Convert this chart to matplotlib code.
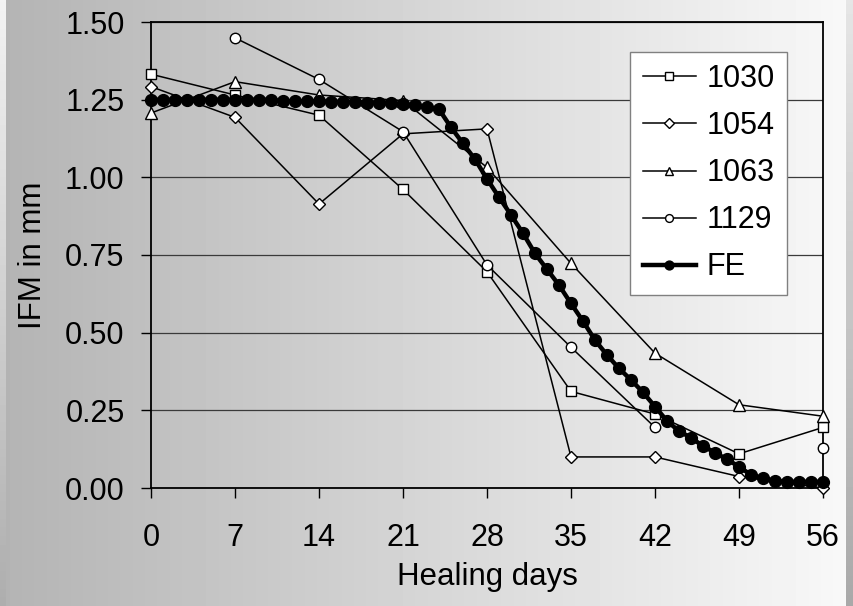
import numpy as np
import matplotlib
matplotlib.use("Agg")
import matplotlib.pyplot as plt

plt.rcParams['font.family'] = ['Liberation Sans', 'DejaVu Sans']

# weekly measurements (days)
days = [0, 7, 14, 21, 28, 35, 42, 49, 56]
s1030 = [1.332, 1.265, 1.200, 0.961, 0.696, 0.311, 0.238, 0.110, 0.195]
s1054 = [1.292, 1.193, 0.914, 1.140, 1.156, 0.100, 0.100, 0.037, 0.000]
s1063 = [1.207, 1.308, 1.265, 1.247, 1.032, 0.723, 0.434, 0.268, 0.231]
s1129 = [np.nan, 1.449, 1.315, 1.147, 0.718, 0.453, 0.195, np.nan, 0.130]

# FE model, one value per day 0..56
fe_days = list(range(57))
fe = [1.25, 1.25, 1.25, 1.25, 1.25, 1.25, 1.25, 1.25, 1.25, 1.25, 1.25,
      1.245, 1.245, 1.245, 1.245, 1.243, 1.243, 1.242, 1.24, 1.24, 1.238,
      1.235, 1.232, 1.227, 1.219, 1.161, 1.109, 1.058, 0.995, 0.936, 0.879,
      0.82, 0.755, 0.704, 0.653, 0.594, 0.537, 0.476, 0.428, 0.385, 0.348,
      0.308, 0.262, 0.216, 0.183, 0.162, 0.135, 0.114, 0.092, 0.069, 0.042,
      0.031, 0.023, 0.02, 0.02, 0.02, 0.02]

xticks = [0, 7, 14, 21, 28, 35, 42, 49, 56]
yticks = [0.0, 0.25, 0.5, 0.75, 1.0, 1.25, 1.5]

fig = plt.figure(figsize=(8.54, 6.06), dpi=100)

# gradient background
W, H = 854, 606
xs = np.arange(W)
row = np.clip(0.706 + (0.973 - 0.706) * (xs - 6) / 840.0, 0, 1)
img = np.tile(row, (H, 1))
img[:, :6] = np.linspace(0.95, 0.68, H)[:, None]
img[:, 846:] = np.linspace(0.90, 0.66, H)[:, None]
bg = fig.add_axes([0, 0, 1, 1], zorder=-10)
bg.imshow(img, cmap='gray', vmin=0, vmax=1, aspect='auto', interpolation='bilinear')
bg.axis('off')

ax = fig.add_axes([151 / W, 1 - 488 / H, (823 - 151) / W, (488 - 22) / H])
ax.set_facecolor('none')

mk = dict(color='black', lw=1.1, markersize=7.5, markerfacecolor='white',
          markeredgecolor='black', markeredgewidth=1.0, clip_on=False)
ax.plot(days, s1030, marker='s', label='1030', zorder=3, **mk)
ax.plot(days, s1054, marker='D', label='1054', zorder=3, **dict(mk, markersize=6.5))
ax.plot(days, s1063, marker='^', label='1063', zorder=3, **dict(mk, markersize=8.5))
ax.plot(days, s1129, marker='o', label='1129', zorder=3, **mk)
ax.plot(fe_days, fe, marker='o', color='black', lw=3.2, markersize=8.5,
        label='FE', zorder=4, clip_on=False)

ax.set_xlim(0, 56)
ax.set_ylim(0, 1.5)
ax.set_xticks(xticks)
ax.set_yticks(yticks)
ax.set_yticklabels([f"{v:.2f}" for v in yticks])
ax.yaxis.grid(True, color='#3a3a3a', lw=0.9)
ax.set_axisbelow(True)
for s in ax.spines.values():
    s.set_linewidth(1.3)
    s.set_color('black')
ax.tick_params(axis='both', direction='out', length=7, width=1, labelsize=22)
ax.tick_params(axis='y', pad=12)
ax.tick_params(axis='x', pad=18)

ax.set_xlabel('Healing days', fontsize=22.5, labelpad=7)
ax.set_ylabel('IFM in mm', fontsize=22.5, labelpad=12)

leg = ax.legend(loc='upper right', bbox_to_anchor=(0.946, 0.936), fontsize=22,
                frameon=True, fancybox=False, framealpha=1, edgecolor='#808080',
                handlelength=1.75, handletextpad=0.33, labelspacing=0.56,
                borderpad=0.4, borderaxespad=0, markerscale=0.75)
leg.get_frame().set_linewidth(1.0)

fig.savefig('out.png', dpi=100)
